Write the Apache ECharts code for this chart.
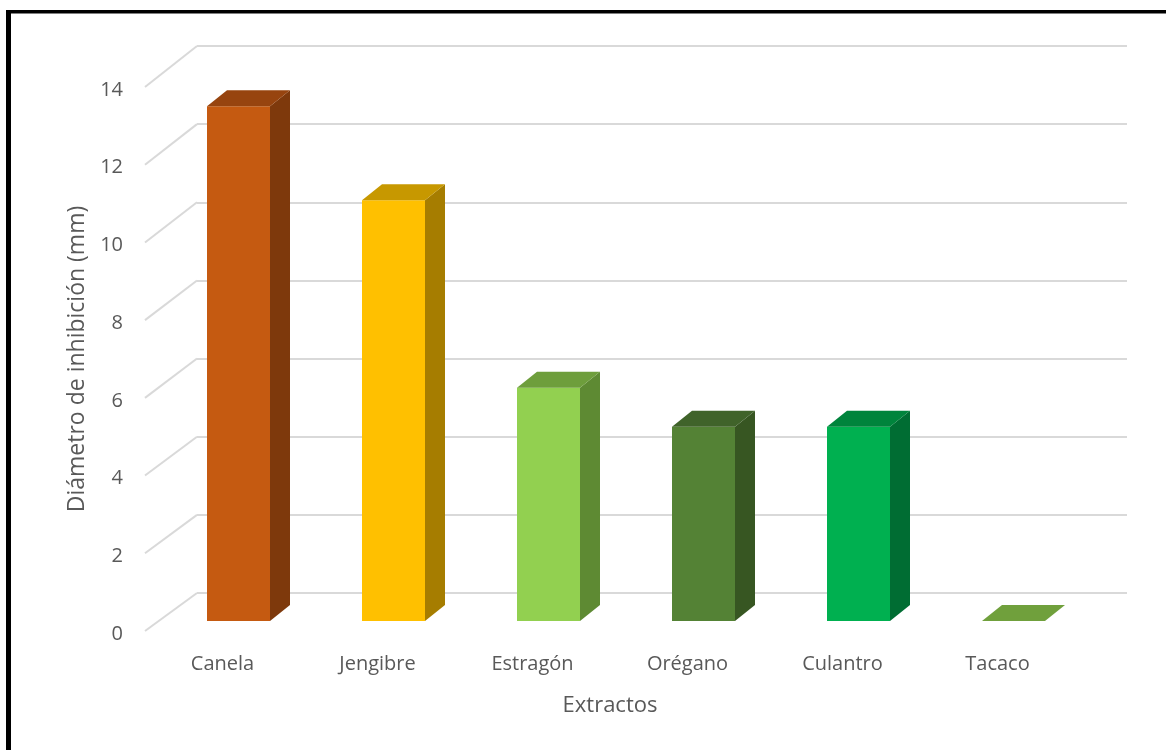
<!DOCTYPE html>
<html>
<head>
<meta charset="utf-8">
<script src="https://cdn.jsdelivr.net/npm/echarts@6/dist/echarts.min.js"></script>
<style>
html,body{margin:0;padding:0;background:#fff;}
#chart{width:1166px;height:750px;}
</style>
</head>
<body>
<div id="chart"></div>
<script>
// ---- data ----
const categories = ['Canela', 'Jengibre', 'Estragón', 'Orégano', 'Culantro', 'Tacaco'];
const values = [13.25, 10.83, 6, 5, 5, 0];
const yMin = 0, yMax = 14, yStep = 2;
const yTicks = [0, 2, 4, 6, 8, 10, 12, 14];
const xAxisTitle = 'Extractos';
const yAxisTitle = 'Diámetro de inhibición (mm)';

// ---- styles ----
const frontColors = ['#C55A11', '#FFC000', '#92D050', '#548235', '#00B050', '#92D050'];
const topColors   = ['#97440F', '#C79800', '#6E9E3C', '#40632A', '#00843C', '#70A03C'];
const sideColors  = ['#7E390C', '#A67D00', '#5E8A33', '#375622', '#006D33', '#5E8A33'];
const W = 1166, H = 750;
const FRONT = {left: 145, right: 91, top: 87, bottom: 119};
const BACK  = {left: 197, right: 39, top: 46, bottom: 157};
const BAR_OFFSET = [16, -10];   // front face of bar relative to front plane
const BAR_DEPTH = [20, -16];    // visible depth of the bar
const BAR_WIDTH = 63;
const TEXT = '#595959';
const FONT = 'Open Sans';

function backY(v) {
  const h = H - BACK.top - BACK.bottom;
  return BACK.top + (1 - (v - yMin) / (yMax - yMin)) * h;
}

const chart = echarts.init(document.getElementById('chart'), null, {renderer: 'canvas'});
chart.setOption({
  backgroundColor: '#ffffff',
  animation: false,
  textStyle: {fontFamily: FONT},
  grid: [
    {left: BACK.left, right: BACK.right, top: BACK.top, bottom: BACK.bottom, show: false},
    {left: FRONT.left, right: FRONT.right, top: FRONT.top, bottom: FRONT.bottom, show: false}
  ],
  xAxis: [
    {gridIndex: 0, type: 'category', data: categories, show: false},
    {gridIndex: 1, type: 'category', data: categories,
     axisLine: {show: false}, axisTick: {show: false},
     axisLabel: {color: TEXT, fontSize: 20, fontFamily: FONT, margin: 23},
     name: xAxisTitle, nameLocation: 'middle', nameGap: 64,
     nameTextStyle: {color: TEXT, fontSize: 22, fontFamily: FONT}}
  ],
  yAxis: [
    {gridIndex: 0, type: 'value', min: yMin, max: yMax, interval: yStep,
     axisLine: {show: false}, axisTick: {show: false}, axisLabel: {show: false},
     splitLine: {show: true, lineStyle: {color: '#d9d9d9', width: 2}}},
    {gridIndex: 1, type: 'value', min: yMin, max: yMax, interval: yStep,
     axisLine: {show: false}, axisTick: {show: false}, splitLine: {show: false},
     axisLabel: {color: TEXT, fontSize: 20, fontFamily: FONT, margin: 22,
                 verticalAlign: 'top', lineHeight: 6},
     name: yAxisTitle, nameLocation: 'middle', nameGap: 53,
     nameTextStyle: {color: TEXT, fontSize: 23, fontFamily: FONT}}
  ],
  graphic: [
    {type: 'rect', shape: {x: 6, y: 10, width: 5, height: H}, style: {fill: '#000'}, z: 100},
    {type: 'rect', shape: {x: 6, y: 10, width: W, height: 3.5}, style: {fill: '#000'}, z: 100}
  ],
  series: [
    {
      type: 'custom', xAxisIndex: 1, yAxisIndex: 1, silent: true, z: 1,
      data: yTicks.map(v => [0, v]),
      renderItem: function (params, api) {
        const v = api.value(1);
        const front = [params.coordSys.x, api.coord([0, v])[1]];
        const back = [BACK.left, backY(v)];
        return {type: 'line', shape: {x1: front[0], y1: front[1], x2: back[0], y2: back[1]},
                style: {stroke: '#d9d9d9', lineWidth: 2}};
      }
    },
    {
      type: 'custom', xAxisIndex: 1, yAxisIndex: 1, silent: true, z: 5,
      data: values.map((v, i) => [i, v]),
      renderItem: function (params, api) {
        const i = api.value(0), v = api.value(1);
        const base = api.coord([i, 0]);
        const top = api.coord([i, v]);
        const x0 = base[0] + BAR_OFFSET[0] - BAR_WIDTH / 2;
        const x1 = x0 + BAR_WIDTH;
        const yb = base[1] + BAR_OFFSET[1];
        const yt = top[1] + BAR_OFFSET[1];
        const dx = BAR_DEPTH[0], dy = BAR_DEPTH[1];
        const children = [];
        if (yb - yt > 0.5) {
          children.push({type: 'polygon', shape: {points: [[x0, yt], [x1, yt], [x1, yb], [x0, yb]]},
                         style: {fill: frontColors[i]}});
          children.push({type: 'polygon', shape: {points: [[x1, yt], [x1 + dx, yt + dy], [x1 + dx, yb + dy], [x1, yb]]},
                         style: {fill: sideColors[i]}});
        }
        children.push({type: 'polygon', shape: {points: [[x0, yt], [x0 + dx, yt + dy], [x1 + dx, yt + dy], [x1, yt]]},
                       style: {fill: topColors[i]}});
        return {type: 'group', children: children};
      }
    }
  ]
});
</script>
</body>
</html>
